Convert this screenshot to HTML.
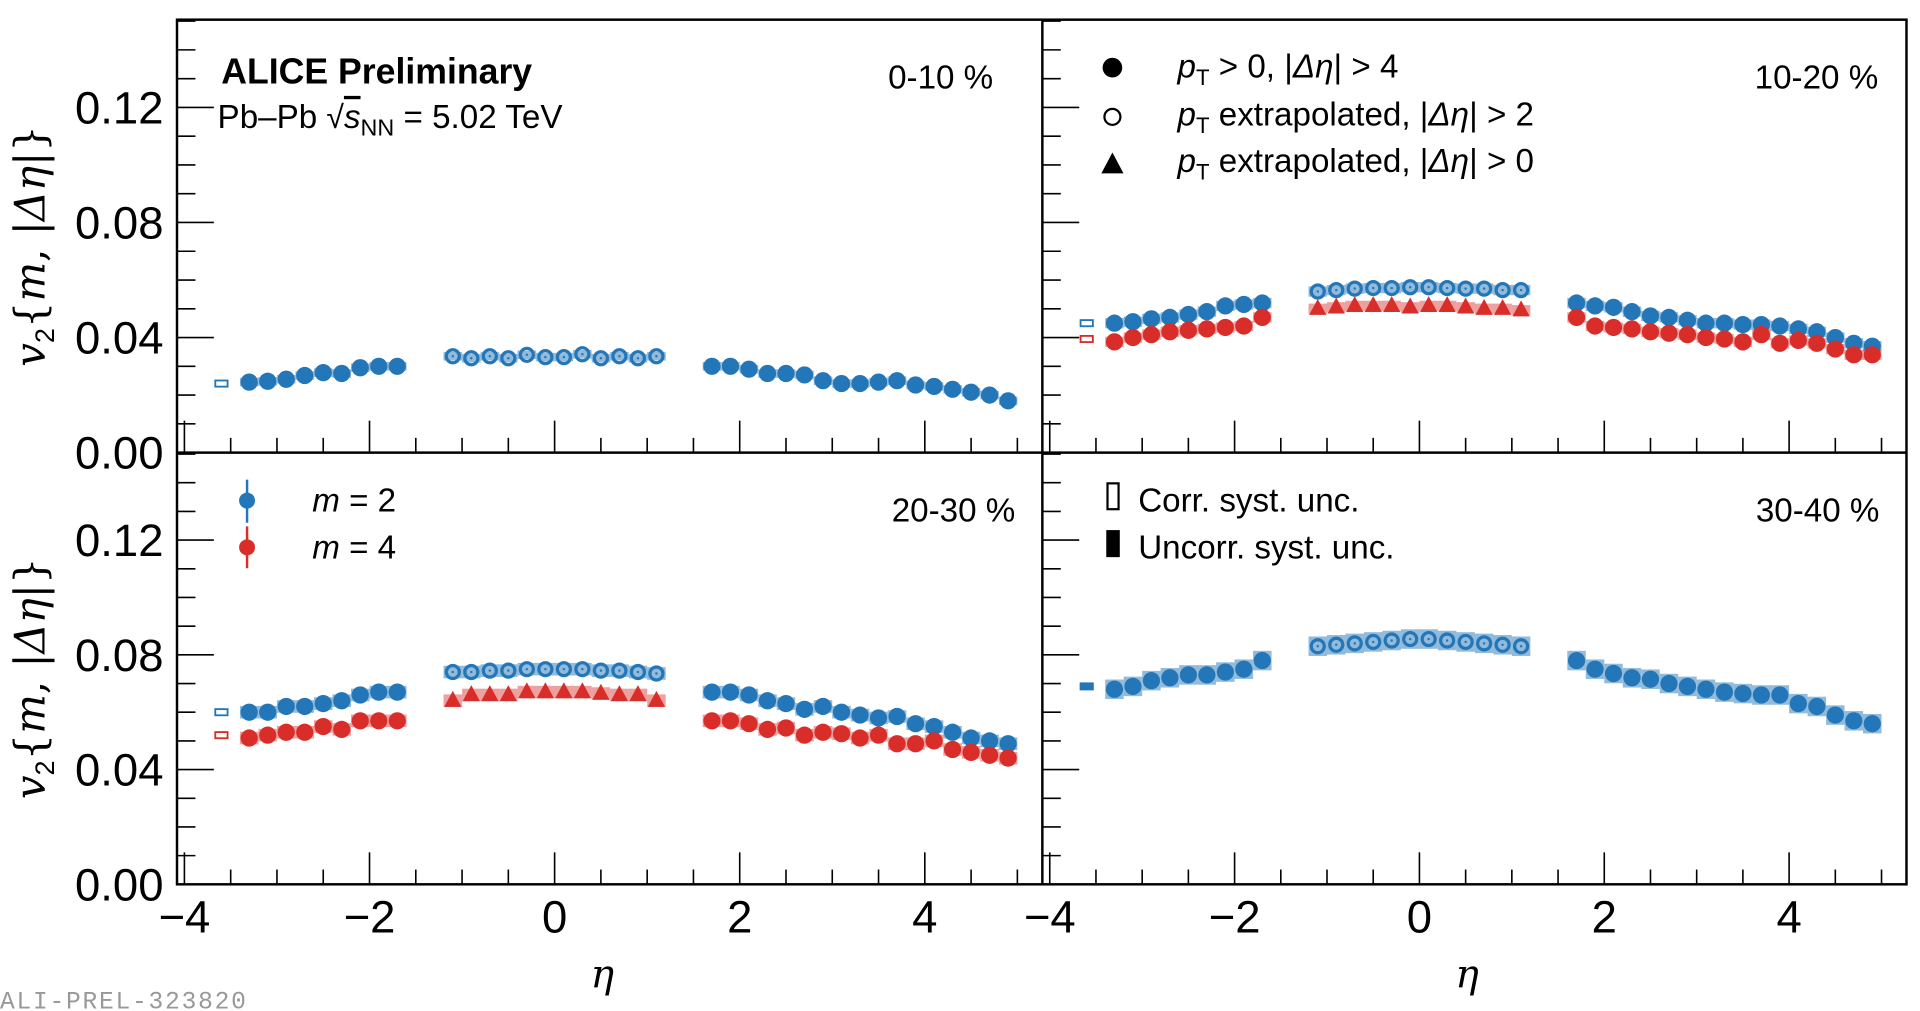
<!DOCTYPE html>
<html><head><meta charset="utf-8"><style>
html,body{margin:0;padding:0;background:#fff;}
svg{display:block;font-family:"Liberation Sans",sans-serif;}
</style></head><body>
<svg id="fig" width="1920" height="1011" viewBox="0 0 1562 822" preserveAspectRatio="none" xmlns="http://www.w3.org/2000/svg"></svg>
<script>
// ---- data ----
const etaLeft=[-3.3,-3.1,-2.9,-2.7,-2.5,-2.3,-2.1,-1.9,-1.7];
const etaCenter=[-1.1,-0.9,-0.7,-0.5,-0.3,-0.1,0.1,0.3,0.5,0.7,0.9,1.1];
const etaRight=[1.7,1.9,2.1,2.3,2.5,2.7,2.9,3.1,3.3,3.5,3.7,3.9,4.1,4.3,4.5,4.7,4.9];
const centralityLabels=["0-10 %","10-20 %","20-30 %","30-40 %"];
const yTickLabels=["0.00","0.04","0.08","0.12"];
const xTickLabels=["\u22124","\u22122","0","2","4"];
// panel 1 (0-10%)
const p1m2Left=[0.0245,0.0248,0.0255,0.0268,0.0278,0.0275,0.0295,0.030,0.030];
const p1m2Center=[0.0335,0.0328,0.0335,0.0328,0.0340,0.0332,0.0332,0.0342,0.0328,0.0335,0.0328,0.0335];
const p1m2Right=[0.030,0.030,0.029,0.0275,0.0275,0.027,0.025,0.024,0.024,0.0245,0.025,0.0235,0.023,0.022,0.021,0.020,0.018];
// panel 2 (10-20%)
const p2m2Left=[0.045,0.0455,0.0465,0.047,0.048,0.049,0.051,0.0515,0.052];
const p2m4Left=[0.0385,0.040,0.041,0.042,0.0425,0.043,0.0435,0.044,0.047];
const p2m2Center=[0.056,0.0565,0.057,0.0572,0.0572,0.0575,0.0575,0.0572,0.057,0.057,0.0565,0.0565];
const p2m4Center=[0.050,0.0505,0.051,0.051,0.051,0.0505,0.051,0.051,0.0505,0.050,0.050,0.0495];
const p2m2Right=[0.052,0.051,0.0505,0.049,0.0475,0.047,0.046,0.045,0.045,0.0445,0.0445,0.044,0.043,0.042,0.040,0.038,0.037];
const p2m4Right=[0.047,0.044,0.0435,0.043,0.042,0.0415,0.041,0.040,0.0395,0.0385,0.041,0.038,0.039,0.038,0.036,0.034,0.034];
// panel 3 (20-30%)
const p3m2Left=[0.060,0.060,0.062,0.062,0.063,0.064,0.066,0.067,0.067];
const p3m4Left=[0.051,0.052,0.053,0.053,0.055,0.054,0.057,0.057,0.057];
const p3m2Center=[0.074,0.074,0.0745,0.0745,0.075,0.075,0.075,0.075,0.0745,0.0745,0.074,0.0735];
const p3m4Center=[0.064,0.066,0.066,0.066,0.067,0.067,0.067,0.067,0.0665,0.066,0.066,0.064];
const p3m2Right=[0.067,0.067,0.066,0.064,0.063,0.061,0.062,0.060,0.059,0.058,0.0585,0.056,0.055,0.053,0.051,0.050,0.049];
const p3m4Right=[0.057,0.057,0.056,0.054,0.0545,0.052,0.053,0.0525,0.051,0.052,0.049,0.049,0.050,0.047,0.046,0.045,0.044];
// panel 4 (30-40%)
const p4m2Left=[0.068,0.069,0.071,0.072,0.073,0.073,0.074,0.075,0.078];
const p4m2Center=[0.083,0.0835,0.084,0.0845,0.085,0.0855,0.0855,0.085,0.0845,0.084,0.0835,0.083];
const p4m2Right=[0.078,0.075,0.0735,0.072,0.0715,0.070,0.069,0.068,0.067,0.0665,0.066,0.066,0.063,0.062,0.059,0.057,0.056];
const corrM2=[0.024,0.045,0.060,0.069];
const corrM4=[null,0.0395,0.052,null];

// ---- drawing ----
const NS="http://www.w3.org/2000/svg";
const svg=document.getElementById('fig');
const BLUE="#2376b7", RED="#d92d2a", LBLUE="rgba(35,118,183,0.5)", LRED="rgba(217,45,42,0.45)";
function el(tag,attrs,parent){const e=document.createElementNS(NS,tag);for(const k in attrs)e.setAttribute(k,attrs[k]);(parent||svg).appendChild(e);return e;}
const panels=[
 {x0:144,x1:848,y0:16,y1:368},{x0:848,x1:1551,y0:16,y1:368},
 {x0:144,x1:848,y0:368,y1:719},{x0:848,x1:1551,y0:368,y1:719}];
const labelOffset=[40,23,22,22];
const XMIN=-4.08,XMAX=5.27,YMAX=0.1505;
function xs(p,v){return p.x0+(v-XMIN)/(XMAX-XMIN)*(p.x1-p.x0);}
function ys(p,v){return p.y1-v/YMAX*(p.y1-p.y0);}

const pdata=[
 {m2:[p1m2Left,p1m2Center,p1m2Right],m4:null,band:1.5},
 {m2:[p2m2Left,p2m2Center,p2m2Right],m4:[p2m4Left,p2m4Center,p2m4Right],band:1.8},
 {m2:[p3m2Left,p3m2Center,p3m2Right],m4:[p3m4Left,p3m4Center,p3m4Right],band:2.2},
 {m2:[p4m2Left,p4m2Center,p4m2Right],m4:null,band:3.4}];
const etas=[etaLeft,etaCenter,etaRight];

panels.forEach((p,i)=>{
  const g=el('g',{});
  
  
  for(let k=0;k<=15;k++){
    const v=k*0.01; if(v>YMAX) break;
    const y=ys(p,v); const major=k%4===0;
    const t=el('line',{x1:p.x0,x2:p.x0+(major?30:15),y1:y,y2:y,stroke:'#000','stroke-width':1.3},g);
    
    
  }
  for(let k=-8;k<=10;k++){
    const v=k*0.5; const x=xs(p,v); if(x<p.x0||x>p.x1) continue;
    const major=k%4===0;
    const t=el('line',{x1:x,x2:x,y1:p.y1,y2:p.y1-(major?26:12),stroke:'#000','stroke-width':1.3},g);
    
    
  }
  const d=pdata[i];
  const series=[{vals:d.m2,c:BLUE,l:LBLUE,m:2}];
  if(d.m4) series.push({vals:d.m4,c:RED,l:LRED,m:4});
  const bh=d.band*0.001;
  series.forEach(s=>{
    s.vals.forEach((arr,seg)=>{
      arr.forEach((v,j)=>{
        const e=etas[seg][j];
        const r=el('rect',{x:xs(p,e-0.1),y:ys(p,v+bh),width:xs(p,e+0.1)-xs(p,e-0.1),height:ys(p,v-bh)-ys(p,v+bh),fill:s.l},g);
        
        
      });
    });
  });
  series.forEach(s=>{
    s.vals.forEach((arr,seg)=>{
      arr.forEach((v,j)=>{
        const x=xs(p,etas[seg][j]), y=ys(p,v);
        let mk;
        if(seg===1 && s.m===2){
          mk=el('g',{},g);
          el('circle',{cx:x,cy:y,r:5.3,fill:'none',stroke:s.c,'stroke-width':2.6},mk);
          el('circle',{cx:x,cy:y,r:1,fill:s.c},mk);
        } else if(seg===1){
          mk=el('polygon',{points:`${x},${y-8} ${x-7},${y+5} ${x+7},${y+5}`,fill:s.c},g);
        } else {
          mk=el('circle',{cx:x,cy:y,r:7,fill:s.c},g);
        }
        
        
      });
    });
  });
  [[corrM2[i],BLUE],[corrM4[i],RED]].forEach(([v,c])=>{
    if(v===null) return;
    const x=xs(p,-3.6);
    const r=el('rect',{x:x-5,y:ys(p,v)-2.5,width:10,height:5,fill:i===3?c:'none',stroke:c,'stroke-width':1.5},g);
    
    
  });
  const t=el('text',{x:p.x1-labelOffset[i],y:p.y0+56,'text-anchor':'end','font-size':27},g);
  t.textContent=centralityLabels[i];
  
  
  if(i%2===0){
    yTickLabels.forEach((lab,k)=>{
      const tt=el('text',{x:133,y:ys(p,k*0.04)+13,'text-anchor':'end','font-size':37},g);
      tt.textContent=lab;
      
      
    });
    const yt=el('text',{transform:`translate(36,${(p.y0+p.y1)/2+8}) rotate(-90)`,'text-anchor':'middle','font-size':34,'font-family':'"DejaVu Serif","Liberation Serif",serif','font-style':'italic'},g);
    yt.innerHTML='v<tspan font-size="22" dy="8" font-style="normal" font-family="Liberation Sans">2</tspan><tspan dy="-8" font-style="normal">{</tspan>m<tspan font-style="normal">, |</tspan>Δη<tspan font-style="normal">|}</tspan>';
    
    
  }
  if(i>=2){
    xTickLabels.forEach((lab,k)=>{
      const tt=el('text',{x:xs(p,-4+2*k),y:758,'text-anchor':'middle','font-size':37},g);
      tt.textContent=lab;
      
      
    });
    const xt=el('text',{x:(p.x0+p.x1)/2-6,y:803,'text-anchor':'middle','font-size':32,'font-style':'italic','font-family':'"DejaVu Serif",serif'},g);
    xt.textContent='η';
    
    
  }
});
const fr=el('g',{fill:'none',stroke:'#000','stroke-width':2});


el('rect',{x:144,y:16,width:1407,height:703},fr);
el('line',{x1:848,x2:848,y1:16,y2:719},fr);
el('line',{x1:144,x2:1551,y1:368,y2:368},fr);

function txt(x,y,size,html,name,extra){
  const t=el('text',Object.assign({x:x,y:y,'font-size':size},extra||{}));
  t.innerHTML=html;
  
  
  return t;
}
txt(180,68,29,'ALICE Preliminary','alice-preliminary-label',{'font-weight':'bold'});
txt(177,104,27,'Pb–Pb <tspan font-size="26">√</tspan><tspan text-decoration="overline" font-style="italic">s</tspan><tspan font-size="19" dy="6">NN</tspan><tspan dy="-6"> = 5.02 TeV</tspan>','collision-system-label');
const lg=el('g',{});


el('circle',{cx:905,cy:55,r:8,fill:'#000'},lg);
el('circle',{cx:905,cy:95,r:6.5,fill:'none',stroke:'#000','stroke-width':1.8},lg);
el('polygon',{points:'905,124 896,141 914,141',fill:'#000'},lg);
const pT='<tspan font-style="italic">p</tspan><tspan font-size="18" dy="6">T</tspan><tspan dy="-6">';
txt(958,63,27,pT+' &gt; 0,  |<tspan font-style="italic">Δη</tspan>|  &gt;  4</tspan>','legend-entry-pt0',{'xml:space':'preserve'});
txt(958,102,27,pT+' extrapolated,  |<tspan font-style="italic">Δη</tspan>|  &gt;  2</tspan>','legend-entry-ext2',{'xml:space':'preserve'});
txt(958,140,27,pT+' extrapolated,  |<tspan font-style="italic">Δη</tspan>|  &gt;  0</tspan>','legend-entry-ext0',{'xml:space':'preserve'});
const lg2=el('g',{});


el('line',{x1:201,x2:201,y1:390,y2:425,stroke:BLUE,'stroke-width':2},lg2);
el('circle',{cx:201,cy:407,r:6.5,fill:BLUE},lg2);
el('line',{x1:201,x2:201,y1:428,y2:462,stroke:RED,'stroke-width':2},lg2);
el('circle',{cx:201,cy:445,r:6.5,fill:RED},lg2);
txt(254,416,27,'<tspan font-style="italic">m</tspan> = 2','legend-entry-m2');
txt(254,454,27,'<tspan font-style="italic">m</tspan> = 4','legend-entry-m4');
const lg3=el('g',{});


el('rect',{x:901,y:393,width:9,height:21,fill:'none',stroke:'#000','stroke-width':1.8},lg3);
el('rect',{x:900,y:431,width:11,height:22,fill:'#000'},lg3);
txt(926,416,27,'Corr. syst. unc.','legend-entry-corr');
txt(926,454,27,'Uncorr. syst. unc.','legend-entry-uncorr');
txt(0,820,20,'ALI-PREL-323820','preliminary-id',{fill:'#999','font-family':'"Liberation Mono",monospace',textLength:'200'});
</script>
</body></html>
